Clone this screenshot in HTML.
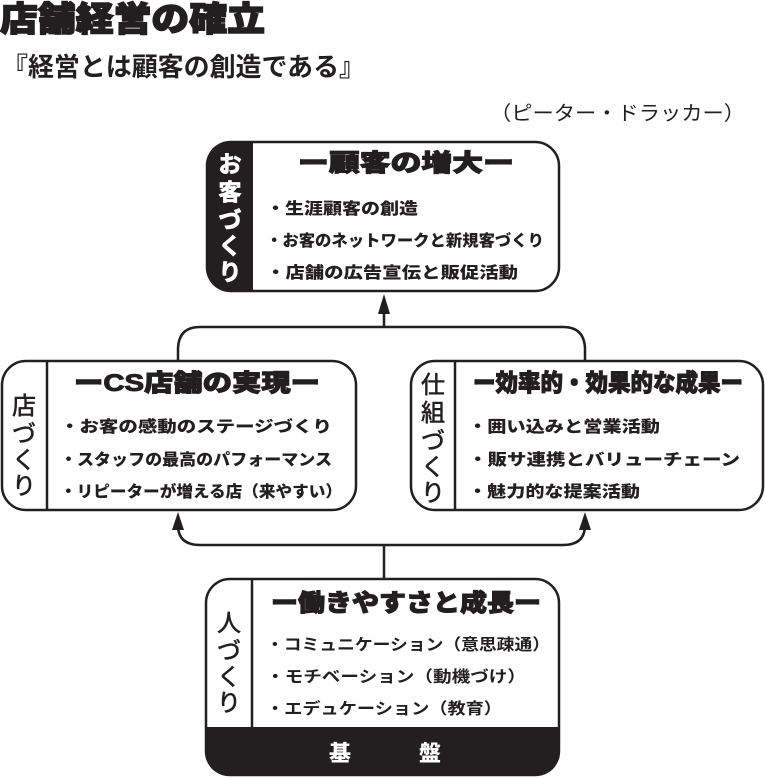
<!DOCTYPE html>
<html><head><meta charset="utf-8"><style>
body{margin:0;background:#fff;}
svg{display:block;font-family:"Liberation Sans","Noto Sans CJK JP",sans-serif;}
</style></head><body>
<svg width="765" height="778" viewBox="0 0 765 778" xmlns="http://www.w3.org/2000/svg">
<text x="0" y="31" font-size="34" font-weight="900" fill="#231f20" stroke="#231f20" stroke-width="1.5" textLength="265" lengthAdjust="spacingAndGlyphs">店舗経営の確立</text>
<text x="2" y="76" font-size="26" font-weight="700" fill="#231f20" textLength="363" lengthAdjust="spacingAndGlyphs">『経営とは顧客の創造である』</text>
<text x="490" y="120" font-size="20" fill="#231f20" textLength="255" lengthAdjust="spacingAndGlyphs">（ピーター・ドラッカー）</text>

<g stroke="#231f20" stroke-width="2.5" fill="none">
<path d="M384,327 L384,310"/>
<path d="M178,360 L178,350 Q178,327 200,327 L563,327 Q585,327 585,350 L585,360"/>
<path d="M178,520 L178,525 Q178,545 200,545 L563,545 Q585,545 585,525 L585,520"/>
<path d="M384,545 L384,579"/>
</g>
<g fill="#231f20">
<polygon points="384,294 378,314 390,314"/>
<polygon points="178,512 172,530 184,530"/>
<polygon points="585,512 579,530 591,530"/>
</g>

<!-- top box -->
<path d="M231,142 L253,142 L253,291 L231,291 Q207,291 207,267 L207,166 Q207,142 231,142 Z" fill="#231f20"/>
<rect x="207" y="142" width="352" height="149" rx="24" fill="none" stroke="#231f20" stroke-width="2.5"/>
<g fill="#fff" stroke="#fff" stroke-width="0.8" font-size="23" font-weight="700" text-anchor="middle">
<text x="230" y="172">お</text><text x="230" y="200">客</text><text x="230" y="228">づ</text><text x="230" y="254">く</text><text x="230" y="280">り</text>
</g>
<g fill="#231f20">
<text x="406" y="171" font-size="24" font-weight="900" stroke="#231f20" stroke-width="1" text-anchor="middle" textLength="216" lengthAdjust="spacingAndGlyphs">ー顧客の増大ー</text>
<text x="266" y="214" font-size="16" font-weight="900" textLength="152" lengthAdjust="spacingAndGlyphs">・生涯顧客の創造</text>
<text x="266" y="246" font-size="16" font-weight="900" textLength="278" lengthAdjust="spacingAndGlyphs">・お客のネットワークと新規客づくり</text>
<text x="266" y="278" font-size="16" font-weight="900" textLength="252" lengthAdjust="spacingAndGlyphs">・店舗の広告宣伝と販促活動</text>
</g>

<!-- left box -->
<rect x="2" y="361" width="354" height="149" rx="24" fill="#fff" stroke="#231f20" stroke-width="2.5"/>
<line x1="47" y1="361" x2="47" y2="510" stroke="#231f20" stroke-width="2.5"/>
<g fill="#231f20" stroke="#231f20" stroke-width="0.6" font-size="24" text-anchor="middle">
<text x="24" y="414">店</text><text x="24" y="442">づ</text><text x="24" y="468">く</text><text x="24" y="494">り</text>
</g>
<g fill="#231f20">
<text x="197" y="391" font-size="24" font-weight="900" stroke="#231f20" stroke-width="1" text-anchor="middle" textLength="246" lengthAdjust="spacingAndGlyphs">ーCS店舗の実現ー</text>
<text x="60" y="432" font-size="16" font-weight="900" textLength="272" lengthAdjust="spacingAndGlyphs">・お客の感動のステージづくり</text>
<text x="60" y="465" font-size="16" font-weight="900" textLength="272" lengthAdjust="spacingAndGlyphs">・スタッフの最高のパフォーマンス</text>
<text x="60" y="497" font-size="16" font-weight="900" textLength="282" lengthAdjust="spacingAndGlyphs">・リピーターが増える店（来やすい）</text>
</g>

<!-- right box -->
<rect x="411" y="361" width="352" height="149" rx="24" fill="#fff" stroke="#231f20" stroke-width="2.5"/>
<line x1="455" y1="361" x2="455" y2="510" stroke="#231f20" stroke-width="2.5"/>
<g fill="#231f20" stroke="#231f20" stroke-width="0.6" font-size="24" text-anchor="middle">
<text x="433" y="393">仕</text><text x="433" y="421">組</text><text x="433" y="449">づ</text><text x="433" y="475">く</text><text x="433" y="501">り</text>
</g>
<g fill="#231f20">
<text x="608" y="391" font-size="24" font-weight="900" stroke="#231f20" stroke-width="1" text-anchor="middle" textLength="270" lengthAdjust="spacingAndGlyphs">ー効率的・効果的な成果ー</text>
<text x="468" y="432" font-size="16" font-weight="900" textLength="192" lengthAdjust="spacingAndGlyphs">・囲い込みと営業活動</text>
<text x="468" y="465" font-size="16" font-weight="900" textLength="272" lengthAdjust="spacingAndGlyphs">・販サ連携とバリューチェーン</text>
<text x="468" y="497" font-size="16" font-weight="900" textLength="172" lengthAdjust="spacingAndGlyphs">・魅力的な提案活動</text>
</g>

<!-- bottom box -->
<path d="M206,727 L559,727 L559,751 Q559,775 535,775 L230,775 Q206,775 206,751 Z" fill="#231f20"/>
<rect x="206" y="579" width="353" height="196" rx="24" fill="none" stroke="#231f20" stroke-width="2.5"/>
<line x1="252" y1="579" x2="252" y2="727" stroke="#231f20" stroke-width="2.5"/>
<g fill="#231f20" stroke="#231f20" stroke-width="0.6" font-size="24" text-anchor="middle">
<text x="229" y="631">人</text><text x="229" y="659">づ</text><text x="229" y="685">く</text><text x="229" y="711">り</text>
</g>
<g fill="#231f20">
<text x="406" y="611" font-size="24" font-weight="900" stroke="#231f20" stroke-width="1" text-anchor="middle" textLength="270" lengthAdjust="spacingAndGlyphs">ー働きやすさと成長ー</text>
<text x="266" y="650" font-size="16" font-weight="700" textLength="284" lengthAdjust="spacingAndGlyphs">・コミュニケーション（意思疎通）</text>
<text x="266" y="682" font-size="16" font-weight="700" textLength="260" lengthAdjust="spacingAndGlyphs">・モチベーション（動機づけ）</text>
<text x="266" y="714" font-size="16" font-weight="700" textLength="236" lengthAdjust="spacingAndGlyphs">・エデュケーション（教育）</text>
</g>
<text x="340" y="761" font-size="22" font-weight="900" fill="#fff" text-anchor="middle">基</text>
<text x="430" y="761" font-size="22" font-weight="900" fill="#fff" text-anchor="middle">盤</text>
</svg>
</body></html>
